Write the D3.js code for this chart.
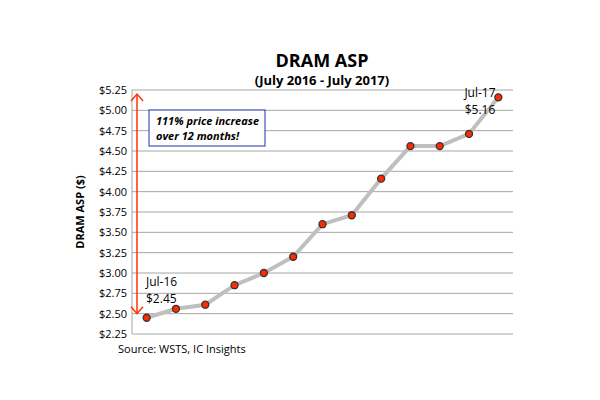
<!DOCTYPE html><html><head><script src="https://cdn.jsdelivr.net/npm/d3@7"></script>
<style>body{margin:0;background:#fff}text{font-family:"Open Sans",Lato,sans-serif}</style></head><body>
<svg id="c" width="600" height="400"></svg>
<script>
const months=["Jul-16","Aug-16","Sep-16","Oct-16","Nov-16","Dec-16","Jan-17","Feb-17","Mar-17","Apr-17","May-17","Jun-17","Jul-17"];
const asp=[2.45,2.56,2.61,2.85,3.00,3.20,3.60,3.71,4.16,4.56,4.56,4.71,5.16];
const yTicks=[2.25,2.5,2.75,3,3.25,3.5,3.75,4,4.25,4.5,4.75,5,5.25];
const svg=d3.select("#c");
const L=132,R=513,T=90,B=334;
const x=d3.scaleBand().domain(months).range([L,R]);
const y=d3.scaleLinear().domain([2.25,5.25]).range([B,T]);
const cx=d=>x(d)+x.bandwidth()/2;
svg.append("g").selectAll("line").data(yTicks).join("line")
 .attr("x1",L).attr("x2",R).attr("y1",d=>y(d)).attr("y2",d=>y(d)).attr("stroke","#a6a6a6");
svg.append("line").attr("x1",L).attr("x2",L).attr("y1",T).attr("y2",B).attr("stroke","#a6a6a6");
svg.append("g").selectAll("text").data(yTicks).join("text").attr("x",L-5).attr("y",d=>y(d)+4)
 .attr("text-anchor","end").attr("font-size",11).text(d=>"$"+d.toFixed(2));
svg.append("path").datum(asp).attr("fill","none").attr("stroke","#bfbfbf").attr("stroke-width",4)
 .attr("d",d3.line().x((d,i)=>cx(months[i])).y(d=>y(d)));
svg.append("g").selectAll("circle").data(asp).join("circle").attr("cx",(d,i)=>cx(months[i])).attr("cy",d=>y(d))
 .attr("r",3.5).attr("fill","#ff2a00").attr("stroke","#333").attr("stroke-width",1.3);
svg.append("text").attr("x",322).attr("y",67).attr("text-anchor","middle").attr("font-size",18).attr("font-weight","bold").text("DRAM ASP");
svg.append("text").attr("x",322).attr("y",85).attr("text-anchor","middle").attr("font-size",13).attr("font-weight","bold").text("(July 2016 - July 2017)");
svg.append("text").attr("transform","translate(84,212) rotate(-90)").attr("text-anchor","middle").attr("font-size",11).attr("font-weight","bold").text("DRAM ASP ($)");
svg.append("text").attr("x",118).attr("y",353).attr("font-size",11).text("Source:  WSTS, IC Insights");
// annotations
svg.append("text").attr("x",146).attr("y",286).attr("font-size",12).text("Jul-16");
svg.append("text").attr("x",146).attr("y",303).attr("font-size",12).text("$2.45");
svg.append("text").attr("x",480).attr("y",97).attr("text-anchor","middle").attr("font-size",12).text("Jul-17");
svg.append("text").attr("x",480).attr("y",114).attr("text-anchor","middle").attr("font-size",12).text("$5.16");
// arrow
const ac="#ff3300";
svg.append("line").attr("x1",137).attr("x2",137).attr("y1",y(5.2)).attr("y2",y(2.5)).attr("stroke",ac).attr("stroke-width",1.5);
svg.append("path").attr("d",`M131,${y(5.2)+7}L137,${y(5.2)}L143,${y(5.2)+7}`).attr("fill","none").attr("stroke",ac).attr("stroke-width",1.5);
svg.append("path").attr("d",`M131,${y(2.5)-7}L137,${y(2.5)}L143,${y(2.5)-7}`).attr("fill","none").attr("stroke",ac).attr("stroke-width",1.5);
svg.append("rect").attr("x",149).attr("y",110).attr("width",116).attr("height",36).attr("fill","#fff").attr("stroke","#1f2fa8");
svg.append("text").attr("x",156).attr("y",125).attr("font-size",11).attr("font-weight","bold").attr("font-style","italic").text("111% price increase");
svg.append("text").attr("x",156).attr("y",140).attr("font-size",11).attr("font-weight","bold").attr("font-style","italic").text("over 12 months!");
</script></body></html>
